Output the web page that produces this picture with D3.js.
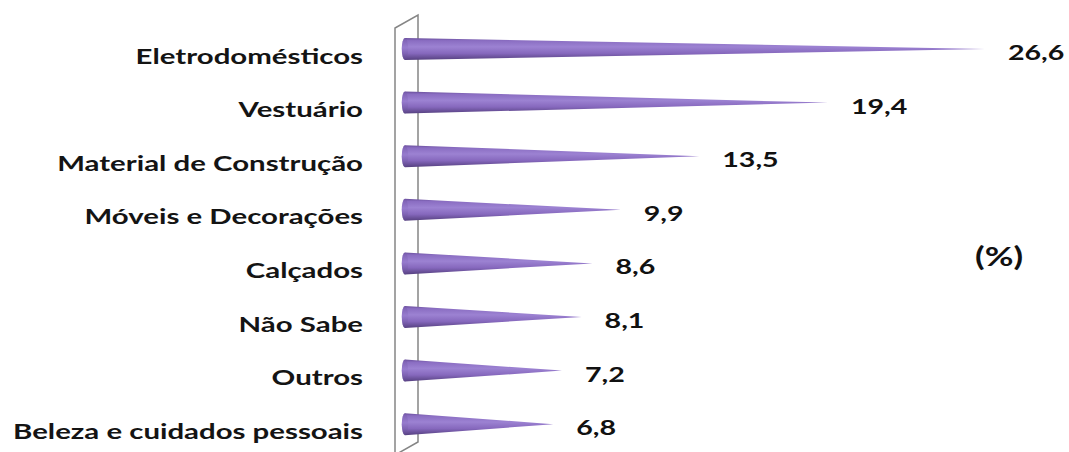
<!DOCTYPE html>
<html><head><meta charset="utf-8">
<script src="https://cdn.jsdelivr.net/npm/d3@7"></script>
<style>body{margin:0;background:#fff}svg{display:block}</style>
</head><body>
<svg id="c" width="1069" height="452"></svg>
<script>
const categories = ["Eletrodomésticos","Vestuário","Material de Construção","Móveis e Decorações","Calçados","Não Sabe","Outros","Beleza e cuidados pessoais"];
const values = [26.6,19.4,13.5,9.9,8.6,8.1,7.2,6.8];
const valueLabels = ["26,6","19,4","13,5","9,9","8,6","8,1","7,2","6,8"];
const unitLabel = "(%)";

const svg = d3.select("#c");
const x = d3.scaleLinear().domain([0,30]).range([405, 405+30*21.8]);
const y = d3.scalePoint().domain(categories).range([49, 424.2]);
const r = 11, rx = 3.2;
const font = "Lato, 'Open Sans', sans-serif";

const defs = svg.append("defs");
const g = defs.append("linearGradient").attr("id","cone").attr("x1",0).attr("y1",0).attr("x2",0).attr("y2",1);
[[0,"#6a4f9c"],[0.12,"#8a6dc2"],[0.4,"#9c82d2"],[0.7,"#8668bd"],[1,"#55407f"]].forEach(([o,c])=>g.append("stop").attr("offset",o).attr("stop-color",c));
const gb = defs.append("linearGradient").attr("id","base").attr("x1",0).attr("y1",0).attr("x2",0).attr("y2",1);
[[0,"#7458a8"],[0.45,"#9478cc"],[1,"#5e468c"]].forEach(([o,c])=>gb.append("stop").attr("offset",o).attr("stop-color",c));

// wall
const wall = svg.append("g").attr("stroke","#858585").attr("stroke-width",1.5).attr("fill","none");
wall.append("path").attr("d","M395,455 L395,28 L418,15 L418,442 L395,455");

// cones
const x0 = x(0);
svg.append("g").selectAll("path").data(values).join("path")
  .attr("d",(v,i)=>{const cy=y(categories[i]);const xt=x(v);
    return `M${x0},${cy-r} L${xt},${cy} L${x0},${cy+r} A${rx},${r} 0 0 1 ${x0},${cy-r} Z`;})
  .attr("fill","url(#cone)");
svg.append("g").selectAll("ellipse").data(values).join("ellipse")
  .attr("cx",x0).attr("cy",(v,i)=>y(categories[i])).attr("rx",rx).attr("ry",r)
  .attr("fill","url(#base)").attr("opacity",0.6);

// category labels (horizontally stretched like the reference)
svg.append("g").selectAll("text").data(categories).join("text")
  .attr("transform",d=>`translate(363,${y(d)+14.5}) scale(1.4,1)`).attr("text-anchor","end")
  .attr("font-family",font).attr("font-weight","bold").attr("font-size",21).attr("fill","#141414")
  .text(d=>d);

// value labels
svg.append("g").selectAll("text").data(values).join("text")
  .attr("transform",(v,i)=>`translate(${x(v)+23},${y(categories[i])+11}) scale(1.36,1)`)
  .attr("font-family",font).attr("font-weight","bold").attr("font-size",21).attr("fill","#111")
  .text((v,i)=>valueLabels[i]);

svg.append("text").attr("transform","translate(975,266) scale(1.35,1)").attr("font-family",font).attr("font-weight","bold")
  .attr("font-size",26).attr("fill","#111").text(unitLabel);
</script>
</body></html>
